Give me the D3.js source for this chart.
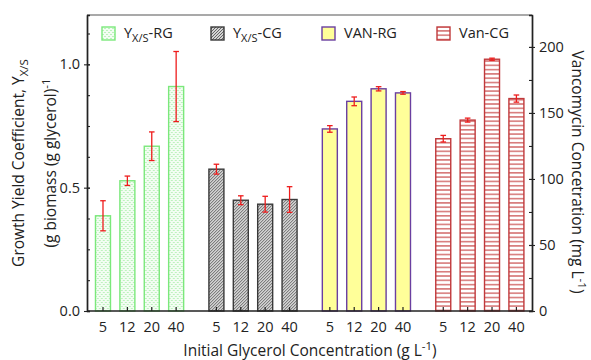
<!DOCTYPE html>
<html>
<head>
<meta charset="utf-8">
<script src="https://cdn.jsdelivr.net/npm/d3@7"></script>
<style>
  body { margin: 0; background: #fff; }
  text { font-family: "Open Sans", "Liberation Sans", sans-serif; fill: #222; }
</style>
</head>
<body>
<svg id="chart" width="591" height="360"></svg>
<script>
// data
var concentrations = ["5", "12", "20", "40"];
var seriesNames = ["YXS-RG", "YXS-CG", "VAN-RG", "Van-CG"];
var yieldRG = [0.386, 0.528, 0.668, 0.910];
var yieldRGErr = [0.061, 0.019, 0.058, 0.142];
var yieldCG = [0.575, 0.449, 0.433, 0.452];
var yieldCGErr = [0.020, 0.018, 0.032, 0.052];
var vanRG = [137.9, 158.8, 168.3, 165.2];
var vanRGErr = [2.5, 3.3, 1.6, 1.0];
var vanCG = [130.5, 144.6, 190.7, 160.9];
var vanCGErr = [2.5, 1.5, 0.8, 2.7];
var leftTicks = [0, 0.5, 1.0];
var rightTicks = [0, 50, 100, 150, 200];

var svg = d3.select("#chart");
var plotL = 87, plotR = 532, plotT = 15, plotB = 311;

// the four groups, two on the left axis, two on the right
var groups = [
  {name: seriesNames[0], vals: yieldRG, err: yieldRGErr, axis: "left", fill: "url(#dots)", stroke: "#7be87b"},
  {name: seriesNames[1], vals: yieldCG, err: yieldCGErr, axis: "left", fill: "url(#hatch)", stroke: "#3a3a3a"},
  {name: seriesNames[2], vals: vanRG, err: vanRGErr, axis: "right", fill: "#ffff99", stroke: "#6a3fa0"},
  {name: seriesNames[3], vals: vanCG, err: vanCGErr, axis: "right", fill: "url(#hlines)", stroke: "#c0393b"}
];

var x0 = d3.scaleBand().domain(seriesNames).range([90.8, 528.6]).paddingInner(0.14).paddingOuter(0);
var x1 = d3.scaleBand().domain(concentrations).range([0, x0.bandwidth()]).paddingInner(0.385).paddingOuter(0.1925);
var yL = d3.scaleLinear().domain([0, 1.2]).range([plotB, plotT]);
var yR = d3.scaleLinear().domain([0, 224.2]).range([plotB, plotT]);

// patterns
var defs = svg.append("defs");
var p1 = defs.append("pattern").attr("id", "dots").attr("patternUnits", "userSpaceOnUse")
  .attr("width", 4).attr("height", 4);
p1.append("rect").attr("width", 4).attr("height", 4).attr("fill", "#f3fdf3");
p1.append("rect").attr("x", 0).attr("y", 0).attr("width", 2).attr("height", 1).attr("fill", "#bdf2bd");
p1.append("rect").attr("x", 2).attr("y", 2).attr("width", 2).attr("height", 1).attr("fill", "#bdf2bd");

var p2 = defs.append("pattern").attr("id", "hatch").attr("patternUnits", "userSpaceOnUse")
  .attr("width", 3).attr("height", 3);
p2.append("rect").attr("width", 3).attr("height", 3).attr("fill", "#d4d4d4");
p2.append("path").attr("d", "M-1,1 l2,-2 M0,3 l3,-3 M2,4 l2,-2")
  .attr("stroke", "#4a4a4a").attr("stroke-width", 0.8);

var p3 = defs.append("pattern").attr("id", "hlines").attr("patternUnits", "userSpaceOnUse")
  .attr("width", 4).attr("height", 4.3);
p3.append("rect").attr("width", 4).attr("height", 4.3).attr("fill", "#fff");
p3.append("rect").attr("y", 0).attr("width", 4).attr("height", 1.6).attr("fill", "#d77a7a");

// frame top line
svg.append("line").attr("x1", plotL).attr("x2", plotR).attr("y1", plotT).attr("y2", plotT)
  .attr("stroke", "#555").attr("stroke-width", 1.2);

// bars
groups.forEach(function(g) {
  var y = g.axis == "left" ? yL : yR;
  var gg = svg.append("g").attr("transform", "translate(" + x0(g.name) + ",0)");
  gg.selectAll("rect.bar").data(g.vals).enter().append("rect")
    .attr("class", "bar")
    .attr("x", function(d, i) { return x1(concentrations[i]); })
    .attr("y", function(d) { return y(d); })
    .attr("width", x1.bandwidth())
    .attr("height", function(d) { return plotB - y(d); })
    .attr("fill", g.fill)
    .attr("stroke", g.stroke)
    .attr("stroke-width", 1.4);

  // error bars
  var eb = gg.selectAll("g.err").data(g.vals).enter().append("g").attr("class", "err");
  var cx = function(i) { return x1(concentrations[i]) + x1.bandwidth() / 2; };
  eb.append("line")
    .attr("x1", function(d, i) { return cx(i); })
    .attr("x2", function(d, i) { return cx(i); })
    .attr("y1", function(d, i) { return y(d + g.err[i]); })
    .attr("y2", function(d, i) { return y(d - g.err[i]); })
    .attr("stroke", "#ee1c1c").attr("stroke-width", 1.3);
  [1, -1].forEach(function(s) {
    eb.append("line")
      .attr("x1", function(d, i) { return cx(i) - 2.8; })
      .attr("x2", function(d, i) { return cx(i) + 2.8; })
      .attr("y1", function(d, i) { return y(d + s * g.err[i]); })
      .attr("y2", function(d, i) { return y(d + s * g.err[i]); })
      .attr("stroke", "#ee1c1c").attr("stroke-width", 1.3);
  });

  // x tick labels + inward ticks
  gg.selectAll("text.xl").data(concentrations).enter().append("text")
    .attr("class", "xl")
    .attr("x", function(d) { return x1(d) + x1.bandwidth() / 2; })
    .attr("y", plotB + 21)
    .attr("text-anchor", "middle")
    .attr("font-size", 14.5)
    .text(function(d) { return d; });
  gg.selectAll("line.xt").data(concentrations).enter().append("line")
    .attr("x1", function(d) { return x1(d) + x1.bandwidth() / 2; })
    .attr("x2", function(d) { return x1(d) + x1.bandwidth() / 2; })
    .attr("y1", plotB).attr("y2", plotB - 4)
    .attr("stroke", "#222").attr("stroke-width", 1.2);
});

// left axis
var minorL = d3.range(0, 1.2001, 0.125);
var axL = svg.append("g").attr("transform", "translate(" + plotL + ",0)");
axL.call(d3.axisLeft(yL).tickValues(minorL).tickSize(-3).tickFormat(""));
var axL2 = svg.append("g").attr("transform", "translate(" + plotL + ",0)");
axL2.call(d3.axisLeft(yL).tickValues(leftTicks).tickSizeInner(3).tickSizeOuter(0).tickPadding(4).tickFormat(d3.format(".1f")));
axL2.selectAll("g.tick line").attr("x1", 3).attr("x2", -3);
axL2.selectAll("text").attr("font-size", 14.5).attr("fill", "#222");

// right axis
var minorR = d3.range(0, 224, 25);
var axR = svg.append("g").attr("transform", "translate(" + plotR + ",0)");
axR.call(d3.axisRight(yR).tickValues(minorR).tickSize(-3).tickFormat(""));
var axR2 = svg.append("g").attr("transform", "translate(" + plotR + ",0)");
axR2.call(d3.axisRight(yR).tickValues(rightTicks).tickSizeInner(3).tickSizeOuter(0).tickPadding(4));
axR2.selectAll("g.tick line").attr("x1", -3).attr("x2", 3);
axR2.selectAll("text").attr("font-size", 14.5).attr("fill", "#222");

svg.selectAll(".domain").attr("stroke", "#222").attr("stroke-width", 1.4);
svg.selectAll(".tick line").attr("stroke", "#222").attr("stroke-width", 1.1);

// bottom axis line
svg.append("line").attr("x1", plotL).attr("x2", plotR).attr("y1", plotB).attr("y2", plotB)
  .attr("stroke", "#222").attr("stroke-width", 1.4);

// axis titles
var tL = svg.append("text").attr("transform", "translate(24,163) rotate(-90)")
  .attr("text-anchor", "middle").attr("font-size", 15.5);
tL.append("tspan").text("Growth Yield Coefficient, Y");
tL.append("tspan").attr("font-size", 11.5).attr("dy", 4).text("X/S");

var tL2 = svg.append("text").attr("transform", "translate(56,163) rotate(-90)")
  .attr("text-anchor", "middle").attr("font-size", 15.5);
tL2.append("tspan").text("(g biomass (g glycerol)");
tL2.append("tspan").attr("font-size", 11.5).attr("dy", -6).text("-1");

var tR = svg.append("text").attr("transform", "translate(572,172) rotate(90)")
  .attr("text-anchor", "middle").attr("font-size", 15.5);
tR.append("tspan").text("Vancomycin Concetration (mg L");
tR.append("tspan").attr("font-size", 11.5).attr("dy", -6).text("-1");
tR.append("tspan").attr("dy", 6).text(")");

var tX = svg.append("text").attr("x", 310).attr("y", 356)
  .attr("text-anchor", "middle").attr("font-size", 15.5);
tX.append("tspan").text("Initial Glycerol Concentration (g L");
tX.append("tspan").attr("font-size", 11.5).attr("dy", -6).text("-1");
tX.append("tspan").attr("dy", 6).text(")");

// legend
var legendX = [102, 211, 322, 437];
groups.forEach(function(g, i) {
  svg.append("rect").attr("x", legendX[i]).attr("y", 27).attr("width", 13).attr("height", 13)
    .attr("fill", g.fill).attr("stroke", g.stroke).attr("stroke-width", 1.4);
  var t = svg.append("text").attr("x", legendX[i] + 22).attr("y", 38).attr("font-size", 14.5);
  if (g.name.indexOf("YXS") == 0) {
    t.append("tspan").text("Y");
    t.append("tspan").attr("font-size", 11).attr("dy", 4).text("X/S");
    t.append("tspan").attr("dy", -4).text(g.name.slice(3));
  } else {
    t.text(g.name);
  }
});
</script>
</body>
</html>
